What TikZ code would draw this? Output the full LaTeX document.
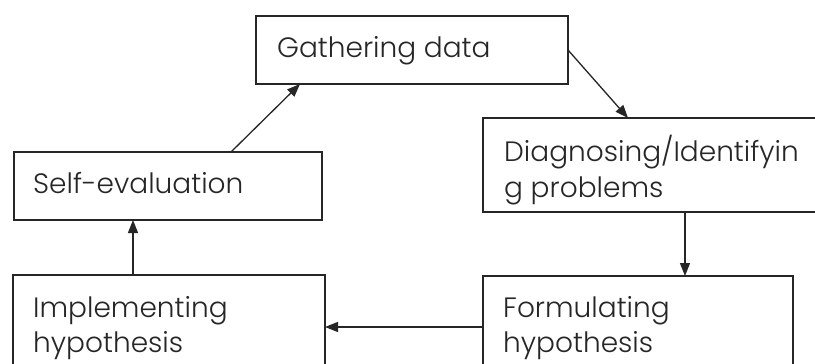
\documentclass[tikz,border=0pt]{standalone}
\usepackage{fontspec}
\setmainfont{Poppins Light}
\usetikzlibrary{arrows.meta}
\begin{document}
\begin{tikzpicture}[x=1pt,y=-1pt,
  box/.style={draw=black!85,line width=1.6pt,inner sep=0pt,outer sep=0pt,anchor=north west},
  lbl/.style={anchor=base west,inner sep=0pt,font=\fontsize{28}{34}\selectfont,text=black!85},
  arr/.style={draw=black!85,line width=1.3pt,-{Triangle[length=13pt,width=10pt]}}]
\useasboundingbox (0,0) rectangle (815,364);
\clip (0,0) rectangle (815,364);
\fill[white] (0,0) rectangle (815,364);
% boxes
\node[box,minimum width=312pt,minimum height=68pt] (gather) at (256,16) {};
\node[box,minimum width=308pt,minimum height=68pt] (selfev) at (14,152) {};
\node[box,minimum width=350pt,minimum height=94pt] (diag) at (483,118) {};
\node[box,minimum width=312pt,minimum height=120pt] (impl) at (13,275) {};
\node[box,minimum width=310pt,minimum height=120pt] (form) at (483,276) {};
% texts
\node[lbl] (tg) at (277,57) {Gathering data};
\node[lbl] (ts) at (33,193) {Self-evaluation};
\node[lbl] (td1) at (504,161) {Diagnosing/Identifyin};
\node[lbl] (td2) at (504,197) {g problems};
\node[lbl] (ti1) at (33,317) {Implementing};
\node[lbl] (ti2) at (33,352) {hypothesis};
\node[lbl] (tf1) at (503,317) {Formulating};
\node[lbl] (tf2) at (503,352) {hypothesis};
% connectors
\draw[arr] (gather.east) -- ([xshift=145pt]diag.north west);
\draw[arr] ([xshift=202pt]diag.south west) -- ([xshift=202pt]form.north west);
\draw[arr] ([yshift=-51pt]form.north west) -- ([yshift=-52pt]impl.north east);
\draw[arr] ([xshift=120pt]impl.north west) -- ([xshift=119pt]selfev.south west);
\draw[arr] ([xshift=217pt]selfev.north west) -- ([xshift=44pt]gather.south west);
\end{tikzpicture}
\end{document}
